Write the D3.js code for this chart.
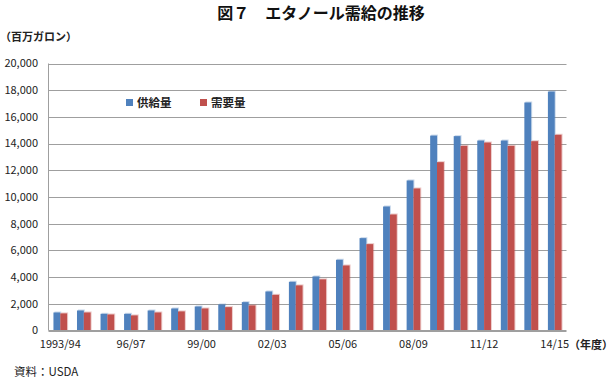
<!DOCTYPE html>
<html><head><meta charset="utf-8">
<script src="https://cdn.jsdelivr.net/npm/d3@7"></script>
<style>
body{margin:0;background:#fff;}
svg{display:block;font-family:"Noto Sans CJK JP","Noto Sans",sans-serif;}
</style></head><body>
<svg id="c" width="614" height="379"></svg>
<script>
const categories = ["1993/94","94/95","95/96","96/97","97/98","98/99","99/00","00/01","01/02","02/03","03/04","04/05","05/06","06/07","07/08","08/09","09/10","10/11","11/12","12/13","13/14","14/15"];
const supply = [1350,1500,1250,1250,1500,1650,1800,1950,2125,2925,3650,4050,5300,6920,9290,11240,14600,14560,14230,14230,17080,17900];
const demand = [1280,1350,1200,1130,1350,1430,1650,1750,1880,2670,3380,3830,4870,6470,8690,10640,12610,13830,14080,13830,14180,14660];
const seriesNames = ["供給量","需要量"];
const colors = ["#4F81BD","#C0504D"];
const yTicks = [0,2000,4000,6000,8000,10000,12000,14000,16000,18000,20000];
const xTickLabels = ["1993/94","96/97","99/00","02/03","05/06","08/09","11/12","14/15"];

const svg = d3.select("#c");
const L=48.5, R=566.5, T=63.5, B=330.5;
const x = d3.scaleBand().domain(categories).range([L,R]).paddingInner(0.42).paddingOuter(0.21);
const xs = d3.scaleBand().domain(seriesNames).range([0,x.bandwidth()]);
const y = d3.scaleLinear().domain([0,20000]).range([B,T]);

// gridlines
svg.append("g").selectAll("line").data(yTicks).join("line")
  .attr("x1",L).attr("x2",R).attr("y1",d=>Math.round(y(d))+0.5).attr("y2",d=>Math.round(y(d))+0.5)
  .attr("stroke","#9f9f9f").attr("stroke-width",1);
svg.append("line").attr("x1",L).attr("x2",L).attr("y1",y(20000)).attr("y2",y(0)).attr("stroke","#9f9f9f");

// y labels
svg.append("g").selectAll("text").data(yTicks).join("text")
  .attr("x",38).attr("y",d=>y(d)).attr("dy","0.35em").attr("text-anchor","end")
  .attr("font-size",11).attr("fill","#222").text(d3.format(","));

// bars
const data = [supply,demand];
const g = svg.append("g");
data.forEach((vals,si)=>{
  const bw = xs.bandwidth();
  g.append("g").selectAll("rect").data(vals).join("rect")
    .attr("x",(d,i)=>x(categories[i])+xs(seriesNames[si])+1)
    .attr("y",d=>y(d)-1).attr("width",bw).attr("height",d=>y(0)-y(d)+1)
    .attr("fill",colors[si]).attr("opacity",0.3);
  g.append("g").selectAll("rect").data(vals).join("rect")
    .attr("x",(d,i)=>x(categories[i])+xs(seriesNames[si]))
    .attr("y",d=>y(d)).attr("width",bw).attr("height",d=>y(0)-y(d))
    .attr("fill",colors[si]);
});
svg.append("line").attr("x1",L).attr("x2",R).attr("y1",B).attr("y2",B).attr("stroke","#9f9f9f");

// x axis labels
const xAxis = d3.axisBottom(x).tickValues(xTickLabels).tickSize(0).tickPadding(0);
const ax = svg.append("g").attr("transform",`translate(0,${B+10})`).call(xAxis);
ax.select(".domain").remove();
ax.selectAll("text").attr("font-size",11).attr("fill","#222").attr("font-family","\"Noto Sans CJK JP\",sans-serif");

// legend
const lg = svg.append("g");
[[126,137],[200,211]].forEach((p,i)=>{
  lg.append("rect").attr("x",p[0]).attr("y",99).attr("width",7).attr("height",7).attr("fill",colors[i]);
  lg.append("text").attr("x",p[1]).attr("y",103).attr("dy","0.35em").attr("font-size",11.5).attr("font-weight","bold").attr("fill","#222").text(seriesNames[i]);
});

// titles
svg.append("text").attr("x",321).attr("y",18.6)
  .attr("text-anchor","middle")
  .attr("font-size",16).attr("font-weight","bold").attr("fill","#111").text("図７　エタノール需給の推移");
svg.append("text").attr("x",0).attr("y",37).attr("dy","0.35em").attr("font-size",11).attr("font-weight","bold").attr("fill","#222").text("（百万ガロン）");
svg.append("text").attr("x",613).attr("y",345).attr("dy","0.35em").attr("text-anchor","end").attr("font-size",11).attr("font-weight","bold").attr("fill","#222").text("（年度）");
svg.append("text").attr("x",14).attr("y",372).attr("dy","0.35em").attr("font-size",11.5).attr("fill","#222").text("資料：USDA");
</script></body></html>
